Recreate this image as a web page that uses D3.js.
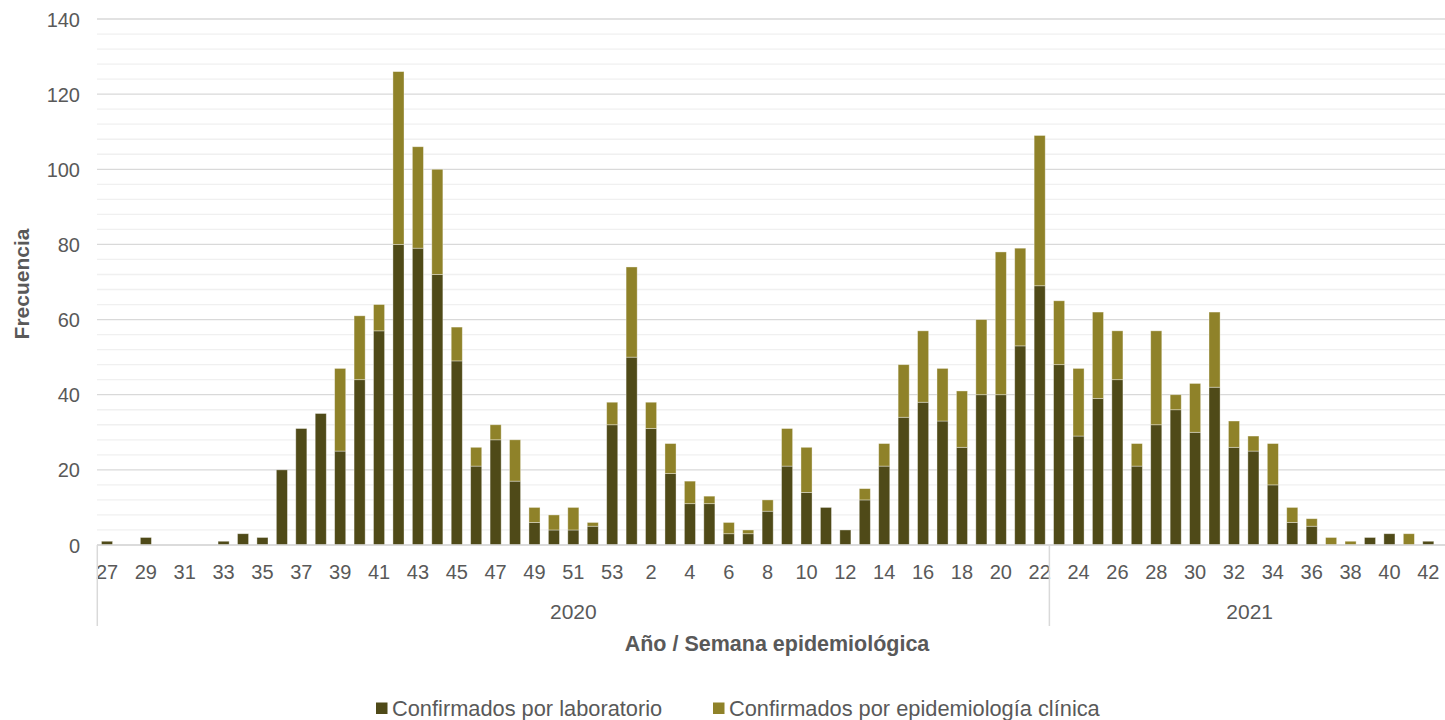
<!DOCTYPE html>
<html>
<head>
<meta charset="utf-8">
<script src="https://cdn.jsdelivr.net/npm/d3@7"></script>
<style>
  body { margin: 0; background: #fff; }
  text { font-family: "Liberation Sans", Arial, sans-serif; fill: #595959; }
</style>
</head>
<body>
<div id="chart"></div>
<script>
// data
const weeks = [27,28,29,30,31,32,33,34,35,36,37,38,39,40,41,42,43,44,45,46,47,48,49,50,51,52,53,
  1,2,3,4,5,6,7,8,9,10,11,12,13,14,15,16,17,18,19,20,21,22,
  23,24,25,26,27,28,29,30,31,32,33,34,35,36,37,38,39,40,41,42];
const years = [{ name: "2020", count: 49 }, { name: "2021", count: 20 }];
const laboratorio = [1,0,2,0,0,0,1,3,2,20,31,35,25,44,57,80,79,72,49,21,28,17,6,4,4,5,32,
  50,31,19,11,11,3,3,9,21,14,10,4,12,21,34,38,33,26,40,40,53,69,
  48,29,39,44,21,32,36,30,42,26,25,16,6,5,0,0,2,3,0,1];
const epidemiologia = [0,0,0,0,0,0,0,0,0,0,0,0,22,17,7,46,27,28,9,5,4,11,4,4,6,1,6,
  24,7,8,6,2,3,1,3,10,12,0,0,3,6,14,19,14,15,20,38,26,40,
  17,18,23,13,6,25,4,13,20,7,4,11,4,2,2,1,0,0,3,0];
const seriesNames = ["Confirmados por laboratorio", "Confirmados por epidemiología clínica"];
const colors = ["#4f4a18", "#8f8229"];
const yTicks = [0,20,40,60,80,100,120,140];

const W = 1445, H = 720;
const plotLeft = 97.3, plotRight = 1438, plotTop = 19, plotBottom = 545;

const svg = d3.select("#chart").append("svg")
  .attr("width", W).attr("height", H);

const rows = weeks.map((w, i) => ({ i: i, lab: laboratorio[i], epi: epidemiologia[i] }));

const x = d3.scaleBand()
  .domain(d3.range(weeks.length))
  .range([plotLeft, plotRight])
  .paddingInner(0.43)
  .paddingOuter(0.215);

const y = d3.scaleLinear().domain([0, 140]).range([plotBottom, plotTop]);

// grid: minor every 4, major every 20
svg.append("g").selectAll("line")
  .data(d3.range(4, 140, 4).filter(v => v % 20 != 0))
  .enter().append("line")
  .attr("x1", 97).attr("x2", W)
  .attr("y1", d => y(d)).attr("y2", d => y(d))
  .attr("stroke", "#f0f0f0").attr("stroke-width", 1.3);

svg.append("g").selectAll("line")
  .data(yTicks)
  .enter().append("line")
  .attr("x1", 97).attr("x2", W)
  .attr("y1", d => y(d)).attr("y2", d => y(d))
  .attr("stroke", "#d9d9d9").attr("stroke-width", 1.3);

// stacked bars
const stack = d3.stack().keys(["lab", "epi"]);
const layers = stack(rows);

svg.append("g").selectAll("g")
  .data(layers)
  .enter().append("g")
  .attr("fill", (d, k) => colors[k])
  .selectAll("rect")
  .data(d => d.filter(p => p[1] - p[0] > 0))
  .enter().append("rect")
  .attr("x", d => x(d.data.i))
  .attr("width", x.bandwidth())
  .attr("y", d => y(d[1]))
  .attr("height", d => y(d[0]) - y(d[1]))
  .attr("stroke", "#ffffff").attr("stroke-opacity", 0.45).attr("stroke-width", 0.8);

// y axis labels
const yAxis = d3.axisLeft(y).tickValues(yTicks).tickSize(0).tickPadding(0);
const gy = svg.append("g").attr("transform", "translate(80,0)").call(yAxis);
gy.select(".domain").remove();
gy.selectAll("text")
  .style("font-size", "20px").attr("fill", "#595959").attr("dy", "0.35em");

// x axis: every other week
const xAxis = d3.axisBottom(x)
  .tickValues(d3.range(0, weeks.length, 2))
  .tickFormat(i => weeks[i])
  .tickSize(0).tickPadding(0);
const gx = svg.append("g").attr("transform", "translate(0," + plotBottom + ")").call(xAxis);
gx.select(".domain").remove();
gx.selectAll("text")
  .style("font-size", "20px").attr("fill", "#595959")
  .attr("y", 34).attr("dy", 0);

svg.append("line")
  .attr("x1", 97).attr("x2", W).attr("y1", plotBottom).attr("y2", plotBottom)
  .attr("stroke", "#d9d9d9").attr("stroke-width", 1.5);

// year groups
var start = 0;
years.forEach((yr, k) => {
  const x0 = x(start) - x.step() * x.paddingInner() / 2;
  const x1 = x(start + yr.count - 1) + x.bandwidth() + x.step() * x.paddingInner() / 2;
  svg.append("line").attr("x1", x0).attr("x2", x0).attr("y1", plotBottom).attr("y2", 626)
    .attr("stroke", "#d9d9d9").attr("stroke-width", 1.5);
  svg.append("text")
    .attr("x", (x0 + x1) / 2 + (k == 1 ? 6 : 0)).attr("y", 619)
    .attr("text-anchor", "middle")
    .style("font-size", "21px")
    .text(yr.name);
  start += yr.count;
});

// axis titles
svg.append("text")
  .attr("x", 777).attr("y", 651)
  .attr("text-anchor", "middle")
  .style("font-size", "21.5px").style("font-weight", "bold")
  .text("Año / Semana epidemiológica");

svg.append("text")
  .attr("transform", "translate(29,284) rotate(-90)")
  .attr("text-anchor", "middle")
  .style("font-size", "21px").style("font-weight", "bold")
  .text("Frecuencia");

// legend
const legendX = [376, 713];
seriesNames.forEach((name, k) => {
  svg.append("rect")
    .attr("x", legendX[k]).attr("y", 702.5)
    .attr("width", 11.5).attr("height", 11.5)
    .attr("fill", colors[k]);
  svg.append("text")
    .attr("x", legendX[k] + 16).attr("y", 716)
    .style("font-size", "21.8px")
    .text(name);
});
</script>
</body>
</html>
